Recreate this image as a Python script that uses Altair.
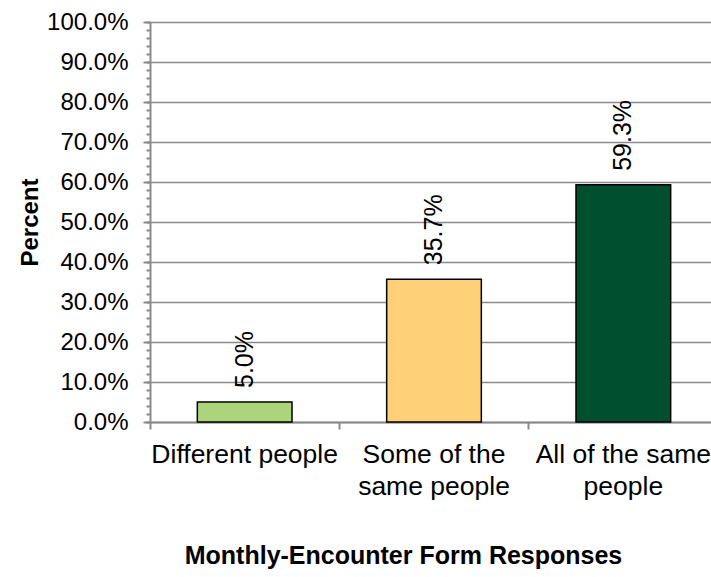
import altair as alt
import pandas as pd

categories = ["Different people", "Some of the\nsame people", "All of the same\npeople"]
values = [0.050, 0.357, 0.593]
colors = ["#acd47a", "#fed077", "#00502f"]
y_major_ticks = [0.0, 0.1, 0.2, 0.3, 0.4, 0.5, 0.6, 0.7, 0.8, 0.9, 1.0]
y_minor_ticks = [i / 50 for i in range(51)]  # every 2%

df = pd.DataFrame({"cat": categories, "val": values, "color": colors})

GRAY = "#8a8a8a"
FONT = "Liberation Sans"

x = alt.X(
    "cat:N",
    sort=categories,
    scale=alt.Scale(range=[0, 568], paddingInner=0, paddingOuter=0),
    axis=alt.Axis(
        title="Monthly-Encounter Form Responses",
        titleFont=FONT, titleFontSize=25, titleFontWeight="bold", titleColor="black",
        titleX=253, titleY=133, titleBaseline="middle", titleAlign="center",
        labelExpr="split(datum.label, '\\n')",
        labelFont=FONT, labelFontSize=26.5, labelLineHeight=32, labelColor="black",
        labelAngle=0, labelPadding=12, labelBaseline="top", labelAlign="center",
        labelOverlap=False, labelLimit=0,
        bandPosition=0, tickSize=7, tickColor=GRAY, tickWidth=2,
        domainColor=GRAY, domainWidth=2, grid=False,
    ),
)

y_major = alt.Y(
    "val:Q",
    scale=alt.Scale(domain=[0, 1], nice=False),
    axis=alt.Axis(
        orient="left",
        title="Percent",
        titleFont=FONT, titleFontSize=24, titleFontWeight="bold", titleColor="black",
        titleX=-120, titleY=200, titleAngle=-90, titleAlign="center", titleBaseline="middle",
        values=y_major_ticks, format=".1%", labelOverlap=False,
        labelFont=FONT, labelFontSize=24, labelColor="black", labelPadding=15,
        tickSize=7, tickColor=GRAY, tickWidth=2,
        domainColor=GRAY, domainWidth=2,
        grid=True, gridColor=GRAY, gridWidth=1.5,
    ),
)

y_minor = alt.Y(
    "val:Q",
    scale=alt.Scale(domain=[0, 1], nice=False),
    axis=alt.Axis(
        orient="left", title=None, labels=False, domain=False, grid=False,
        values=y_minor_ticks, tickSize=4, tickColor=GRAY, tickWidth=2,
    ),
)

bars = alt.Chart(df).mark_bar(
    width=alt.RelativeBandSize(0.5), stroke="black", strokeWidth=1.5
).encode(x=x, y=y_major, color=alt.Color("color:N", scale=None))

labels = alt.Chart(df).mark_text(
    angle=270, align="left", baseline="middle", dx=14, fontSize=25, font=FONT, color="black"
).encode(
    x=x,
    y=y_minor,
    text=alt.Text("val:Q", format=".1%"),
)

chart = alt.layer(labels, bars).resolve_axis(y="independent").properties(
    width=561, height=400,
    autosize=alt.AutoSizeParams(type="none"),
    padding={"left": 150, "top": 22, "right": 0, "bottom": 155},
).configure_view(stroke=None).configure(background="white")

chart.save("out.html", embed_options={"renderer": "svg", "actions": False})
